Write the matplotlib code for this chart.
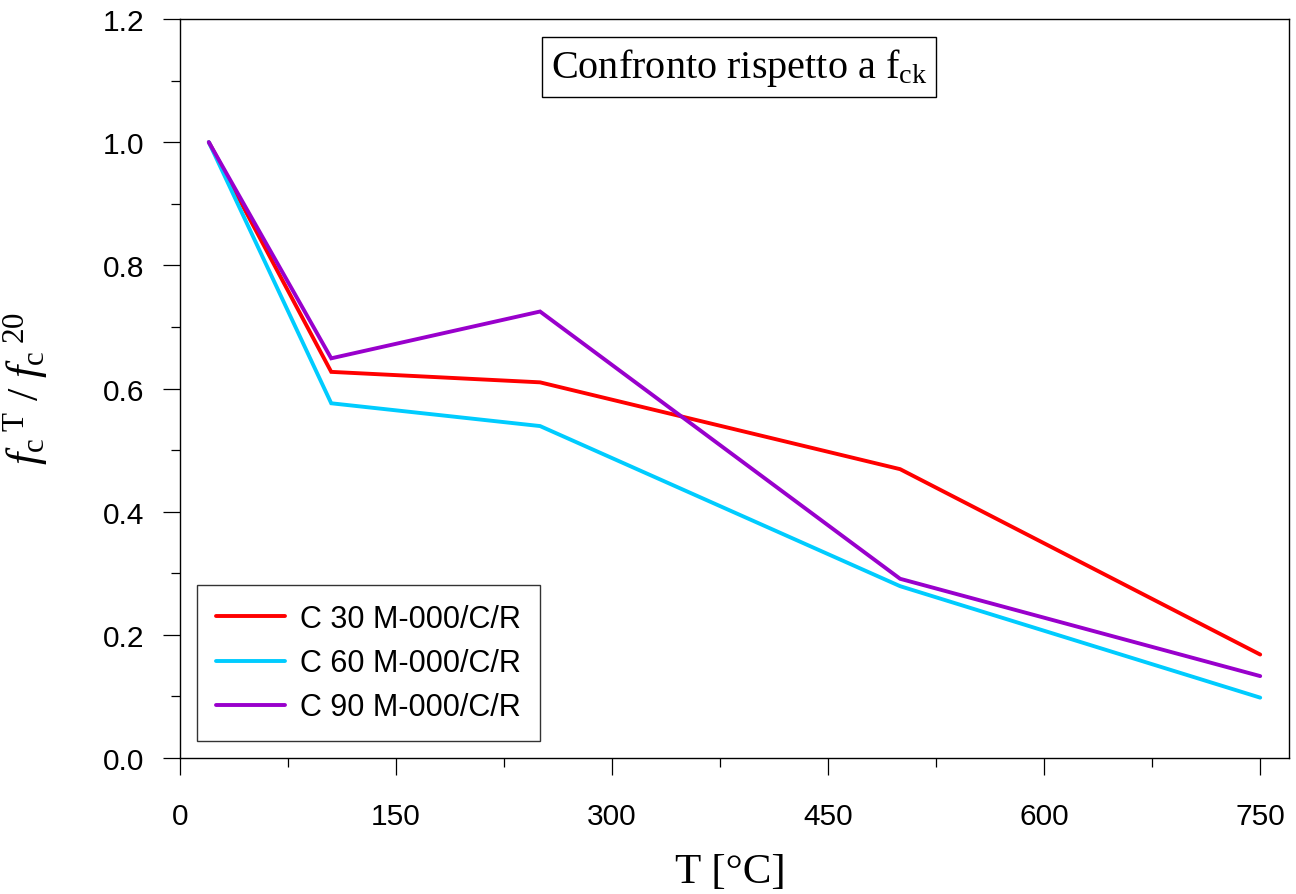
import matplotlib
matplotlib.use("Agg")
import matplotlib.pyplot as plt
from matplotlib.ticker import MultipleLocator

plt.rcParams["mathtext.fontset"] = "custom"
plt.rcParams["mathtext.rm"] = "Liberation Serif"
plt.rcParams["mathtext.it"] = "Liberation Serif:italic"
plt.rcParams["mathtext.bf"] = "Liberation Serif:bold"

# Temperature [°C] and residual compressive strength ratio f_c(T)/f_c(20)
temperature = [20, 105, 250, 500, 750]
c30 = [1.000, 0.627, 0.610, 0.469, 0.168]
c60 = [1.000, 0.576, 0.539, 0.279, 0.098]
c90 = [1.000, 0.649, 0.725, 0.291, 0.133]

series_labels = ["C 30 M-000/C/R", "C 60 M-000/C/R", "C 90 M-000/C/R"]
series_colors = ["#FF0000", "#00CCFF", "#9900CC"]
x_ticks = [0, 150, 300, 450, 600, 750]
y_ticks = [0.0, 0.2, 0.4, 0.6, 0.8, 1.0, 1.2]

W, H = 1296, 895
fig = plt.figure(figsize=(W / 100, H / 100), dpi=100)
ax = fig.add_axes([180 / W, 1 - 759 / H, (1289 - 180) / W, (759 - 20) / H])

for vals, lab, col in zip([c30, c60, c90], series_labels, series_colors):
    ax.plot(temperature, vals, color=col, lw=2.8, label=lab,
            solid_joinstyle="miter", solid_capstyle="round")

ax.set_xlim(0, 770)
ax.set_ylim(0, 1.2)
ax.set_xticks(x_ticks)
ax.set_yticks(y_ticks)
ax.set_yticklabels([f"{v:.1f}" for v in y_ticks])
ax.xaxis.set_minor_locator(MultipleLocator(75))
ax.yaxis.set_minor_locator(MultipleLocator(0.1))

for s in ax.spines.values():
    s.set_linewidth(1.0)
    s.set_color("black")

ax.tick_params(axis="both", which="major", direction="out", length=12.5,
               width=0.9, labelsize=21.5, colors="black")
ax.tick_params(axis="both", which="minor", direction="out", length=6.5,
               width=0.9)
ax.tick_params(axis="x", which="major", pad=19)
ax.tick_params(axis="y", which="major", pad=13)
for lbl in ax.get_xticklabels() + ax.get_yticklabels():
    lbl.set_fontfamily("Liberation Sans")

leg = ax.legend(loc="lower left", prop={"family": "Liberation Sans", "size": 22},
                frameon=True, fancybox=False, framealpha=1.0, edgecolor="#333333",
                handlelength=2.25, handletextpad=0.5, labelspacing=0.46,
                borderpad=0.62, borderaxespad=0.55)
leg.get_frame().set_linewidth(1.0)

# Title box inside the plot area
fig.text(739 / W, 1 - 68 / H, r"Confronto rispetto a f$_{\rm ck}$",
         family="Liberation Serif", fontsize=29, ha="center", va="center",
         bbox=dict(boxstyle="square,pad=0.22", fc="white", ec="black", lw=1.0))

# Axis titles
fig.text(730 / W, 1 - 883 / H, "T [°C]", family="Liberation Serif",
         fontsize=31, ha="center", va="baseline")
fig.text(26 / W, 1 - 388 / H,
         r"$\mathit{f}_{\rm c}{}^{\;\rm T}\ /\ \mathit{f}_{\rm c}{}^{\;\rm 20}$",
         fontsize=32, rotation=90, ha="center", va="center")

fig.savefig("out.png", dpi=100)
